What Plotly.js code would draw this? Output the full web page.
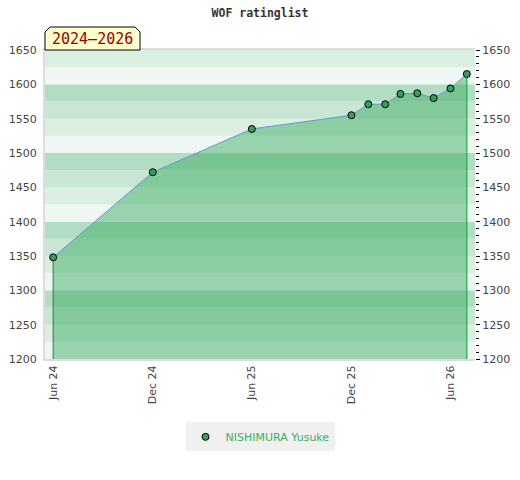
<!DOCTYPE html>
<html>
<head>
<meta charset="utf-8">
<script src="https://cdn.plot.ly/plotly-3.0.1.min.js"></script>
<style>html,body{margin:0;padding:0;background:#fff;}#chart{width:520px;height:480px;}</style>
</head>
<body>
<div id="chart"></div>
<script>
// ---- data ----
const dates = ["2024-06-01","2024-12-01","2025-06-01","2025-12-01","2026-01-01","2026-02-01","2026-03-01","2026-04-01","2026-05-01","2026-06-01","2026-07-01"];
const ratings = [1348, 1472, 1535, 1555, 1571, 1571, 1586, 1587, 1580, 1594, 1615];
const playerName = "NISHIMURA Yusuke";
const chartTitle = "WOF ratinglist";
const periodLabel = "2024–2026";
const yMin = 1200, yMax = 1650;
const bandStep = 25;
const bandColors = ["#eff7f2", "#dbeee2", "#c8e6d3", "#b2dcc3"];

// ---- background bands ----
const shapes = [];
for (let v = yMin, i = 0; v < yMax; v += bandStep, i++) {
  shapes.push({type: "rect", xref: "paper", yref: "y", x0: 0, x1: 1, y0: v, y1: v + bandStep,
    fillcolor: bandColors[i % bandColors.length], line: {width: 0}, layer: "below"});
}
// period label box with cut top corners
const bw = 0.221, bh = 1.0744, cx = 0.0116, cy = 0.0162;
shapes.push({type: "path", xref: "paper", yref: "paper",
  path: `M 0,1 L 0,${bh - cy} L ${cx},${bh} L ${bw - cx},${bh} L ${bw},${bh - cy} L ${bw},1 Z`,
  fillcolor: "#ffffcc", line: {color: "#000", width: 1}, layer: "above"});

const n = dates.length;
const traces = [
  {x: dates, y: ratings, type: "scatter", mode: "lines", fill: "tozeroy",
   fillcolor: "rgba(49,167,88,0.45)", line: {color: "#5b9bd5", width: 1},
   showlegend: false, hoverinfo: "skip"},
  {x: [dates[0], dates[0]], y: [yMin, ratings[0]], type: "scatter", mode: "lines",
   line: {color: "#2a7a4a", width: 1}, showlegend: false, hoverinfo: "skip"},
  {x: [dates[n-1], dates[n-1]], y: [yMin, ratings[n-1]], type: "scatter", mode: "lines",
   line: {color: "#22aa44", width: 1.2}, showlegend: false, hoverinfo: "skip"},
  {x: dates, y: ratings, type: "scatter", mode: "markers", name: playerName,
   marker: {color: "#35a05c", size: 7, line: {color: "#000", width: 1}}},
  {x: dates, y: ratings, type: "scatter", mode: "markers", yaxis: "y2",
   marker: {opacity: 0}, showlegend: false, hoverinfo: "skip"}
];

const tickFont = {family: "DejaVu Sans", size: 11, color: "#444"};
const layout = {
  width: 520, height: 480,
  margin: {l: 45, r: 45, t: 50, b: 121},
  paper_bgcolor: "#fff", plot_bgcolor: "#fff",
  title: {text: chartTitle, x: 0.5, xanchor: "center", y: 0.973, yanchor: "middle",
    font: {family: "DejaVu Sans Mono", size: 11.5, color: "#333", weight: "bold"}},
  xaxis: {type: "date", range: ["2024-05-17", "2026-07-16"], tick0: "2024-06-01", dtick: "M6",
    tickformat: "%b %y", tickangle: -90, tickfont: tickFont, showgrid: false, zeroline: false,
    showline: true, linecolor: "#dcdcdc", linewidth: 2, mirror: true, ticks: ""},
  yaxis: {range: [yMin, yMax], dtick: 50, tickfont: tickFont, showgrid: false, zeroline: false,
    showline: true, linecolor: "#dcdcdc", linewidth: 2, ticks: "", ticklabelstandoff: 4},
  yaxis2: {range: [yMin, yMax], dtick: 50, overlaying: "y", side: "right", tickfont: tickFont,
    showgrid: false, zeroline: false, showline: false, ticks: "outside", ticklen: 4,
    tickcolor: "#000", tickwidth: 1,
    minor: {dtick: 10, ticks: "outside", ticklen: 3, tickcolor: "#000", tickwidth: 1}},
  showlegend: true,
  legend: {orientation: "h", x: 0.5, xanchor: "center", y: -0.252, yanchor: "middle",
    bgcolor: "#f0f0f0", font: {family: "DejaVu Sans", size: 11, color: "#3cae5f"}},
  shapes: shapes,
  annotations: [{xref: "paper", yref: "paper", x: bw / 2, y: (1 + bh) / 2, xanchor: "center",
    yanchor: "middle", showarrow: false, text: periodLabel,
    font: {family: "DejaVu Sans Mono", size: 15, color: "#990000"}}]
};

Plotly.newPlot("chart", traces, layout, {displayModeBar: false, staticPlot: true});
</script>
</body>
</html>
